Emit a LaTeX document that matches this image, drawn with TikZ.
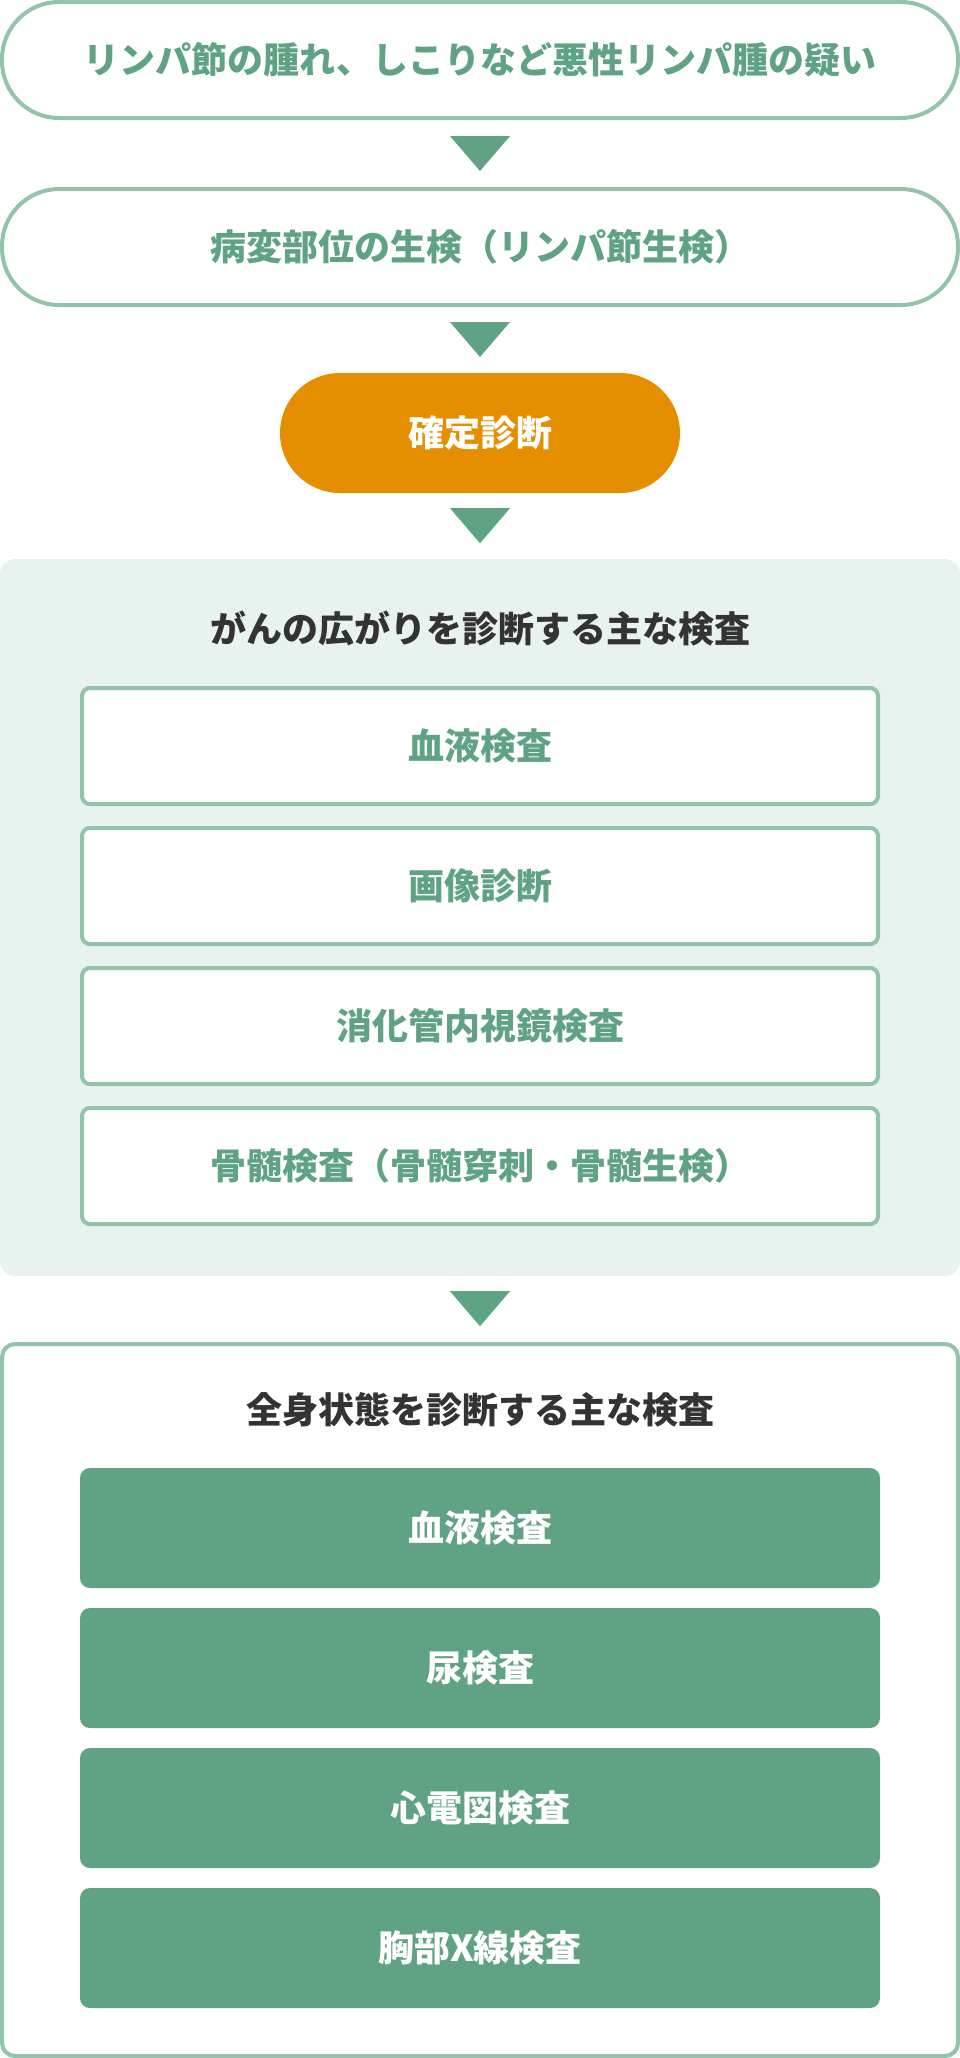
\documentclass[tikz,border=0pt]{standalone}
\usepackage{fontspec}
\newfontfamily\jp{Noto Sans CJK JP}
\usetikzlibrary{positioning}
\definecolor{lineG}{HTML}{93C3AB}
\definecolor{greenC}{HTML}{5FA384}
\definecolor{orangeC}{HTML}{E58E00}
\definecolor{panelBg}{HTML}{E8F2EE}
\definecolor{darkT}{HTML}{333333}
\tikzset{
  jpfont/.style={font=\jp\bfseries\fontsize{36pt}{40pt}\selectfont},
  pill/.style={jpfont, draw=lineG, line width=4pt, fill=white, rounded corners=57pt,
    minimum width=956pt, minimum height=116pt, inner sep=0pt, text=greenC},
  orangebox/.style={jpfont, fill=orangeC, rounded corners=60pt, minimum width=400pt,
    minimum height=120pt, inner sep=0pt, text=white},
  panelone/.style={fill=panelBg, rounded corners=15pt, minimum width=960pt,
    minimum height=717pt, inner sep=0pt},
  paneltwo/.style={draw=lineG, line width=4pt, fill=white, rounded corners=13pt,
    minimum width=956pt, minimum height=712pt, inner sep=0pt},
  whitebox/.style={jpfont, draw=lineG, line width=4pt, fill=white, rounded corners=8pt,
    minimum width=796pt, minimum height=116pt, inner sep=0pt, text=greenC},
  greenbox/.style={jpfont, fill=greenC, rounded corners=10pt, minimum width=800pt,
    minimum height=120pt, inner sep=0pt, text=white},
  title/.style={jpfont, text=darkT, inner sep=0pt},
  tri/.style={fill=greenC}
}
\begin{document}
\begin{tikzpicture}[x=1pt,y=-1pt]
\useasboundingbox (0,0) rectangle (960,2058);
% top flow
\node[pill] (b1) at (480,60) {リンパ節の腫れ、しこりなど悪性リンパ腫の疑い};
\node[pill] (b2) at (480,247) {病変部位の生検（リンパ節生検）};
\node[orangebox] (b3) at (480,433) {確定診断};
% panel 1
\node[panelone] (p1) at (480,917.5) {};
\node[title] (t1) at (480,628.5) {がんの広がりを診断する主な検査};
\node[whitebox] (w1) at (480,746) {血液検査};
\node[whitebox] (w2) at (480,886) {画像診断};
\node[whitebox] (w3) at (480,1026) {消化管内視鏡検査};
\node[whitebox] (w4) at (480,1166) {骨髄検査（骨髄穿刺・骨髄生検）};
% panel 2
\node[paneltwo] (p2) at (480,1700) {};
\node[title] (t2) at (480,1410) {全身状態を診断する主な検査};
\node[greenbox] (g1) at (480,1528) {血液検査};
\node[greenbox] (g2) at (480,1668) {尿検査};
\node[greenbox] (g3) at (480,1808) {心電図検査};
\node[greenbox] (g4) at (480,1948) {胸部X線検査};
% arrow triangles
\fill[tri] ([yshift=-16pt]b1.south) ++(-30,0) -- ++(60,0) -- ++(-30,35) -- cycle;
\fill[tri] ([yshift=-15pt]b2.south) ++(-30,0) -- ++(60,0) -- ++(-30,35) -- cycle;
\fill[tri] ([yshift=-15pt]b3.south) ++(-30,0) -- ++(60,0) -- ++(-30,35) -- cycle;
\fill[tri] ([yshift=-15pt]p1.south) ++(-30,0) -- ++(60,0) -- ++(-30,35) -- cycle;
\end{tikzpicture}
\end{document}
